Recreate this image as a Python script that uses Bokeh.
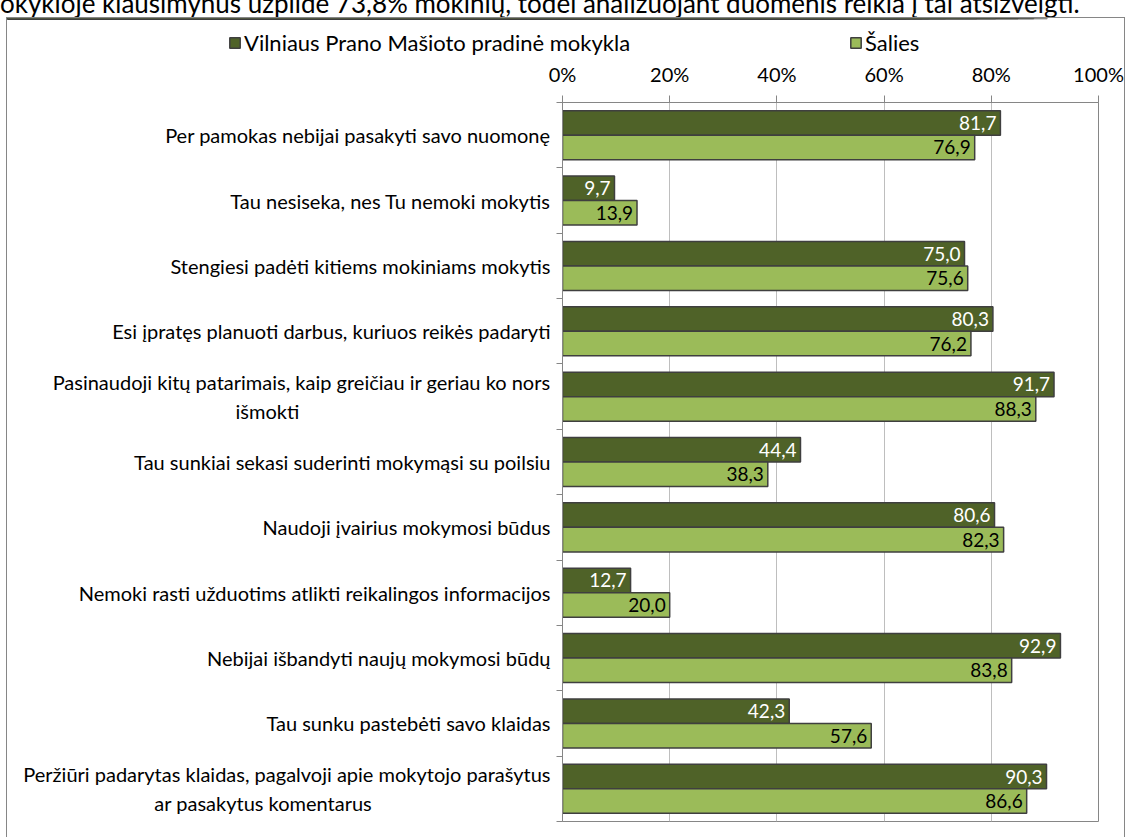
from bokeh.plotting import figure
from bokeh.layouts import column
from bokeh.models import (Range1d, FixedTicker, CustomJSTickFormatter, PrintfTickFormatter,
                          ColumnDataSource, LabelSet, Legend, LegendItem, Div)
from bokeh.core.properties import value
from bokeh.transform import dodge
from bokeh.embed import file_html
from bokeh.resources import INLINE

categories = [
    "Per pamokas nebijai pasakyti savo nuomonę",
    "Tau nesiseka, nes Tu nemoki mokytis",
    "Stengiesi padėti kitiems mokiniams mokytis",
    "Esi įpratęs planuoti darbus, kuriuos reikės padaryti",
    "Pasinaudoji kitų patarimais, kaip greičiau ir geriau ko nors\nišmokti",
    "Tau sunkiai sekasi suderinti mokymąsi su poilsiu",
    "Naudoji įvairius mokymosi būdus",
    "Nemoki rasti užduotims atlikti reikalingos informacijos",
    "Nebijai išbandyti naujų mokymosi būdų",
    "Tau sunku pastebėti savo klaidas",
    "Peržiūri padarytas klaidas, pagalvoji apie mokytojo parašytus\nar pasakytus komentarus",
]
school = [81.7, 9.7, 75.0, 80.3, 91.7, 44.4, 80.6, 12.7, 92.9, 42.3, 90.3]
country = [76.9, 13.9, 75.6, 76.2, 88.3, 38.3, 82.3, 20.0, 83.8, 57.6, 86.6]
x_ticks = [0, 20, 40, 60, 80, 100]
series_names = ["Vilniaus Prano Mašioto pradinė mokykla", "Šalies"]
note_text = "okykloje klausimynus užpildė 73,8% mokinių, todėl analizuojant duomenis reikia į tai atsižvelgti."

FONT = "Lato"
DARK = "#4F6228"
LIGHT = "#9BBB59"
EDGE = "#3F3F3F"
AXIS = "#868686"
GRID = "#BEBEBE"
BORDER = f"1px solid {AXIS}"

n = len(categories)
src = ColumnDataSource(dict(
    y=[i + 0.5 for i in range(n)],
    school=school,
    country=country,
    school_lbl=[f"{v:.1f}".replace(".", ",") for v in school],
    country_lbl=[f"{v:.1f}".replace(".", ",") for v in country],
))
bw = 0.375

# note line (cut off at the top, as in the source)
note = Div(text=f'<div style="font-family:Lato;font-size:26px;line-height:26px;'
                f'margin-top:-10px;white-space:nowrap;color:black;">{note_text}</div>',
           width=1131, height=17, margin=(0, 0, 0, 0), styles={"overflow": "hidden"})

# legend strip (its bars fall outside its own range, only the legend shows)
lf = figure(width=1119, height=41, output_backend="svg", toolbar_location=None,
            x_range=Range1d(0, 100), y_range=Range1d(-3, -2),
            x_axis_location=None, y_axis_location=None, margin=(0, 0, 0, 6),
            min_border_left=0, min_border_right=0, min_border_top=0, min_border_bottom=0,
            styles={"border-left": BORDER, "border-top": BORDER, "border-right": BORDER})
lf.outline_line_color = None
lf.grid.visible = False
lr1 = lf.hbar(y="y", left=0, right="school", height=bw, source=src,
              fill_color=DARK, line_color=EDGE, line_width=1.5)
lr2 = lf.hbar(y="y", left=0, right="country", height=bw, source=src,
              fill_color=LIGHT, line_color=EDGE, line_width=1.5)
lg = Legend(items=[LegendItem(label=series_names[0], renderers=[lr1]),
                   LegendItem(label=series_names[1], renderers=[lr2])],
            location=(221, 3), orientation="horizontal", glyph_width=13, glyph_height=13,
            label_standoff=3, label_width=605, padding=0, margin=0, spacing=0,
            background_fill_alpha=0, border_line_color=None,
            label_text_font=FONT, label_text_font_size="22px", label_text_color="black")
lf.add_layout(lg, "center")

# main chart
p = figure(width=1119, height=779, output_backend="svg", toolbar_location=None,
           x_range=Range1d(0, 100), y_range=Range1d(n, 0),
           x_axis_location="above", margin=(0, 0, 0, 6),
           min_border_left=555, min_border_right=28, min_border_top=43, min_border_bottom=16,
           styles={"border-left": BORDER, "border-right": BORDER})
p.outline_line_color = AXIS
p.background_fill_color = "white"
p.border_fill_color = "white"

for f in (lf, p):
    if "frame_align" in f.properties():
        f.frame_align = False

p.hbar(y=dodge("y", -bw / 2), left=0, right="school", height=bw, source=src,
       fill_color=DARK, line_color=EDGE, line_width=1.5)
p.hbar(y=dodge("y", bw / 2), left=0, right="country", height=bw, source=src,
       fill_color=LIGHT, line_color=EDGE, line_width=1.5)

p.add_layout(LabelSet(x="school", y=dodge("y", -bw / 2), text="school_lbl", source=src,
                      x_offset=-4, text_align="right", text_baseline="middle",
                      text_font=value(FONT), text_font_size="19px", text_color="white"))
p.add_layout(LabelSet(x="country", y=dodge("y", bw / 2), text="country_lbl", source=src,
                      x_offset=-4, text_align="right", text_baseline="middle",
                      text_font=value(FONT), text_font_size="19px", text_color="black"))

# x axis (top)
xa = p.xaxis[0]
xa.ticker = FixedTicker(ticks=x_ticks)
xa.formatter = PrintfTickFormatter(format="%d%%")
xa.axis_line_color = AXIS
xa.major_tick_line_color = AXIS
xa.major_tick_out = 7
xa.major_tick_in = 0
xa.minor_tick_line_color = None
xa.major_label_standoff = 10
xa.major_label_text_font = FONT
xa.major_label_text_font_size = "20px"
xa.major_label_text_color = "black"

p.xgrid.ticker = FixedTicker(ticks=x_ticks)
p.xgrid.grid_line_color = GRID
p.ygrid.visible = False

# y axis (categories); wrapped second lines are centred under the first line
ya = p.yaxis[0]
ya.ticker = FixedTicker(ticks=[i + 0.5 for i in range(n)], minor_ticks=list(range(n + 1)))
ya.formatter = CustomJSTickFormatter(args=dict(labels=categories), code="""
const s = labels[Math.floor(tick)];
const lines = s.split("\\n");
if (lines.length < 2) return s;
const ctx = document.createElement("canvas").getContext("2d");
ctx.font = "20px Lato";
const w0 = ctx.measureText(lines[0]).width;
const spaces = ["\\u2003", "\\u2002", "\\u2004", "\\u2005", "\\u2006", "\\u2009", "\\u200A"]
  .map((c) => [c, ctx.measureText(c).width]).filter((e) => e[1] > 0.5);
const out = [lines[0]];
for (let i = 1; i < lines.length; i++) {
  let pad = 1.16 * (w0 - ctx.measureText(lines[i]).width) / 2;
  let tail = "";
  for (const [c, w] of spaces) {
    while (pad >= w) { tail += c; pad -= w; }
  }
  out.push(lines[i] + tail);
}
return out.join("\\n");
""")
ya.axis_line_color = AXIS
ya.major_tick_line_color = None
ya.major_tick_out = 6
ya.major_tick_in = 0
ya.minor_tick_line_color = AXIS
ya.minor_tick_out = 6
ya.minor_tick_in = 0
ya.major_label_standoff = 6
ya.major_label_text_font = FONT
ya.major_label_text_font_size = "20px"
ya.major_label_text_color = "black"

layout = column(note, lf, p, spacing=0)
open("out.html", "w").write(file_html(layout, INLINE))
